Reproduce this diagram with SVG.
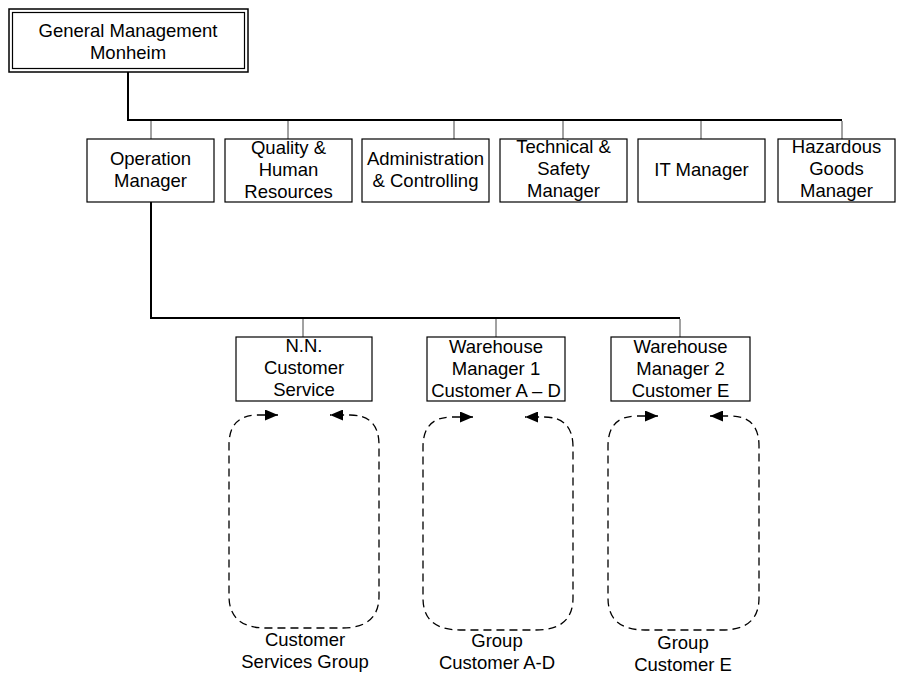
<svg xmlns="http://www.w3.org/2000/svg" width="897" height="675" viewBox="0 0 897 675">
  <style>
    text { font-family: "Liberation Sans", Arial, sans-serif; font-size: 18.5px; fill: #000; text-anchor: middle; }
    .box { fill: #fff; stroke: #000; stroke-width: 1.2; }
    .trunk { fill: none; stroke: #000; stroke-width: 2; }
    .drop { fill: none; stroke: #444; stroke-width: 1; }
    .loop { fill: none; stroke: #000; stroke-width: 1.3; stroke-dasharray: 8 5; }
  </style>
  <defs>
    <marker id="head" viewBox="0 0 13 11" refX="13" refY="5.5" markerWidth="13" markerHeight="11" markerUnits="userSpaceOnUse" orient="auto-start-reverse">
      <path d="M0,0 L13,5.5 L0,11 Z" fill="#000"/>
    </marker>
  </defs>

  <!-- connectors -->
  <g id="connectors">
    <path class="trunk" d="M128,72 V120 H842"/>
    <path class="drop" d="M151,121 V139 M288,121 V139 M454,121 V139 M563,121 V139 M701,121 V139 M842,121 V139"/>
    <path class="trunk" d="M151,202 V318 H680"/>
    <path class="drop" d="M303,319 V337 M496,319 V337 M680,319 V337"/>
  </g>

  <!-- top node -->
  <g id="general-management">
    <rect x="9" y="9" width="239" height="63" fill="#fff" stroke="#000" stroke-width="1.5"/>
    <rect x="12.5" y="12.5" width="232" height="56" fill="none" stroke="#000" stroke-width="1.2"/>
    <text x="128" y="37">General Management</text>
    <text x="128" y="59">Monheim</text>
  </g>

  <!-- second row -->
  <g id="operation-manager">
    <rect class="box" x="87" y="139" width="127" height="63"/>
    <text x="150.5" y="165">Operation</text>
    <text x="150.5" y="187">Manager</text>
  </g>
  <g id="quality-hr">
    <rect class="box" x="225" y="139" width="127" height="63"/>
    <text x="288.5" y="154">Quality &amp;</text>
    <text x="288.5" y="176">Human</text>
    <text x="288.5" y="198">Resources</text>
  </g>
  <g id="administration">
    <rect class="box" x="362" y="139" width="127" height="63"/>
    <text x="425.5" y="165">Administration</text>
    <text x="425.5" y="187">&amp; Controlling</text>
  </g>
  <g id="technical-safety">
    <rect class="box" x="500" y="139" width="127" height="63"/>
    <text x="563.5" y="153">Technical &amp;</text>
    <text x="563.5" y="175">Safety</text>
    <text x="563.5" y="197">Manager</text>
  </g>
  <g id="it-manager">
    <rect class="box" x="638" y="139" width="127" height="63"/>
    <text x="701.5" y="176">IT Manager</text>
  </g>
  <g id="hazardous-goods">
    <rect class="box" x="778" y="139" width="117" height="63"/>
    <text x="836.5" y="153">Hazardous</text>
    <text x="836.5" y="175">Goods</text>
    <text x="836.5" y="197">Manager</text>
  </g>

  <!-- third row -->
  <g id="customer-service">
    <rect class="box" x="236" y="337" width="136" height="64"/>
    <text x="304" y="352">N.N.</text>
    <text x="304" y="374">Customer</text>
    <text x="304" y="396">Service</text>
  </g>
  <g id="warehouse-1">
    <rect class="box" x="427" y="337" width="138" height="64"/>
    <text x="496" y="353">Warehouse</text>
    <text x="496" y="375">Manager 1</text>
    <text x="496" y="397">Customer A – D</text>
  </g>
  <g id="warehouse-2">
    <rect class="box" x="611" y="337" width="139" height="64"/>
    <text x="680.5" y="353">Warehouse</text>
    <text x="680.5" y="375">Manager 2</text>
    <text x="680.5" y="397">Customer E</text>
  </g>

  <!-- team loops -->
  <g id="customer-services-group">
    <path class="loop" marker-start="url(#head)" marker-end="url(#head)"
      d="M278,415 H258 Q229,415 229,445 V596 Q229,628 266,628 H342 Q379,628 379,596 V445 Q379,415 350,415 H330"/>
    <text x="305" y="646">Customer</text>
    <text x="305" y="668">Services Group</text>
  </g>
  <g id="group-customer-a-d">
    <path class="loop" marker-start="url(#head)" marker-end="url(#head)"
      d="M473,417 H452 Q423,417 423,447 V598 Q423,630 460,630 H536 Q573,630 573,598 V447 Q573,417 544,417 H525"/>
    <text x="497" y="647">Group</text>
    <text x="497" y="669">Customer A-D</text>
  </g>
  <g id="group-customer-e">
    <path class="loop" marker-start="url(#head)" marker-end="url(#head)"
      d="M658,416 H637 Q608,416 608,446 V598 Q608,630 645,630 H722 Q759,630 759,598 V446 Q759,416 730,416 H710"/>
    <text x="683" y="649">Group</text>
    <text x="683" y="671">Customer E</text>
  </g>
</svg>
